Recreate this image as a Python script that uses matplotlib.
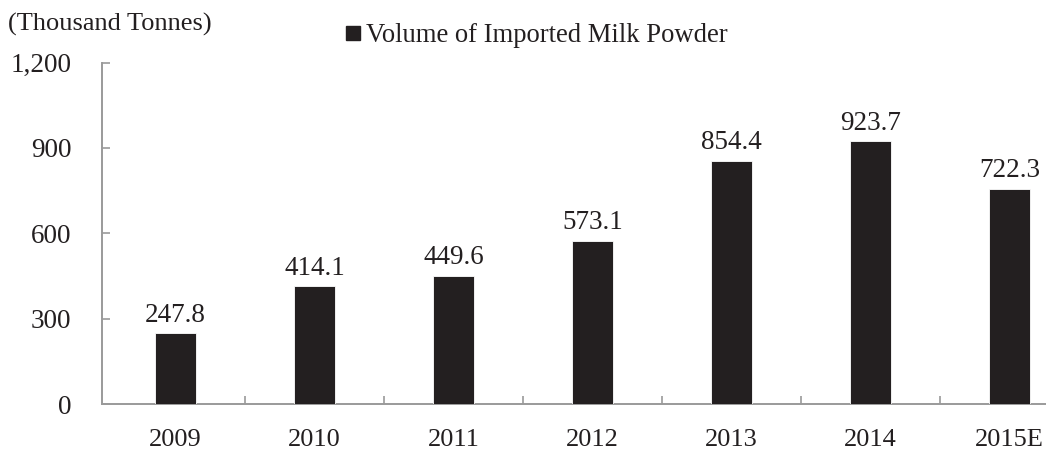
import matplotlib
matplotlib.use("Agg")
import matplotlib.pyplot as plt
from matplotlib.lines import Line2D

plt.rcParams['font.family'] = ['Liberation Serif', 'DejaVu Serif']

years = ["2009", "2010", "2011", "2012", "2013", "2014", "2015E"]
volumes = [247.8, 414.1, 449.6, 573.1, 854.4, 923.7, 722.3]
# bar heights as drawn in the source (2015E bar is drawn taller than its label)
bar_heights = [247.8, 414.1, 449.6, 573.1, 854.4, 923.7, 757.0]
yticks = [0, 300, 600, 900, 1200]

dark = "#231f20"
grey = "#9a9a9a"

fig = plt.figure(figsize=(10.46, 4.54), dpi=100)
ax = fig.add_axes([102 / 1046, 50 / 454, 977 / 1046, 341.5 / 454])

x = list(range(len(years)))
ax.bar(x, bar_heights, width=0.3, color=dark, edgecolor="white", linewidth=0.6, zorder=3)

for xi, h, v in zip(x, bar_heights, volumes):
    ax.annotate(f"{v:.1f}", (xi, h), xytext=(0, 4), textcoords="offset points",
                ha="center", va="bottom", fontsize=19.5, color=dark)

ax.set_xlim(-0.529, 6.5)
ax.set_ylim(0, 1200)
ax.set_yticks(yticks)
ax.set_yticklabels([f"{t:,}" for t in yticks])
ax.set_xticks(x)
ax.set_xticklabels(years)
ax.set_xticks([i + 0.5 for i in range(len(years) - 1)], minor=True)

ax.tick_params(axis="x", which="major", length=0, pad=18, labelsize=19, labelcolor=dark)
ax.tick_params(axis="x", which="minor", direction="in", length=6, width=1.2, color=grey)
ax.tick_params(axis="y", direction="in", length=6, width=1.2, color=grey, pad=22,
               labelsize=19.5, labelcolor=dark)

for s in ["top", "right"]:
    ax.spines[s].set_visible(False)
for s in ["left", "bottom"]:
    ax.spines[s].set_color(grey)
    ax.spines[s].set_linewidth(1.4)

fig.text(8 / 1046, 1 - 24 / 454, "(Thousand Tonnes)", fontsize=19, color=dark,
         ha="left", va="center")

handle = Line2D([], [], marker="s", linestyle="none", color=dark, markersize=10.5)
fig.legend([handle], ["Volume of Imported Milk Powder"], loc="center left",
           bbox_to_anchor=(326 / 1046, 1 - 36 / 454), frameon=False, fontsize=19.2,
           handletextpad=0.0, handlelength=1.0, borderpad=0, labelcolor=dark)

fig.savefig("out.png", dpi=100)
